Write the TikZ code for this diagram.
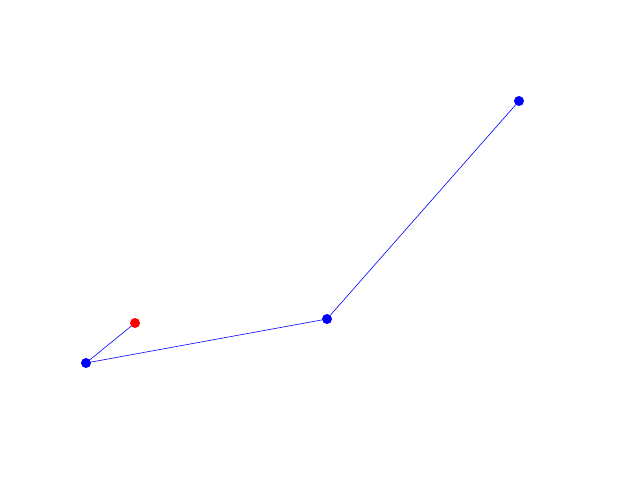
\documentclass[tikz,border=0pt]{standalone}
\begin{document}
\begin{tikzpicture}[x=1pt,y=-1pt,
  bdot/.style={circle,fill=blue,inner sep=0pt,minimum size=10pt},
  rdot/.style={circle,fill=red,inner sep=0pt,minimum size=10pt},
  link/.style={blue,line width=0.6pt}]
\useasboundingbox (0,0) rectangle (640,480);
\node[rdot] (r) at (135,323) {};
\node[bdot] (a) at (86,363) {};
\node[bdot] (b) at (327,319) {};
\node[bdot] (c) at (519,101) {};
\draw[link] (r) -- (a);
\draw[link] (a) -- (b);
\draw[link] (b) -- (c);
\end{tikzpicture}
\end{document}
